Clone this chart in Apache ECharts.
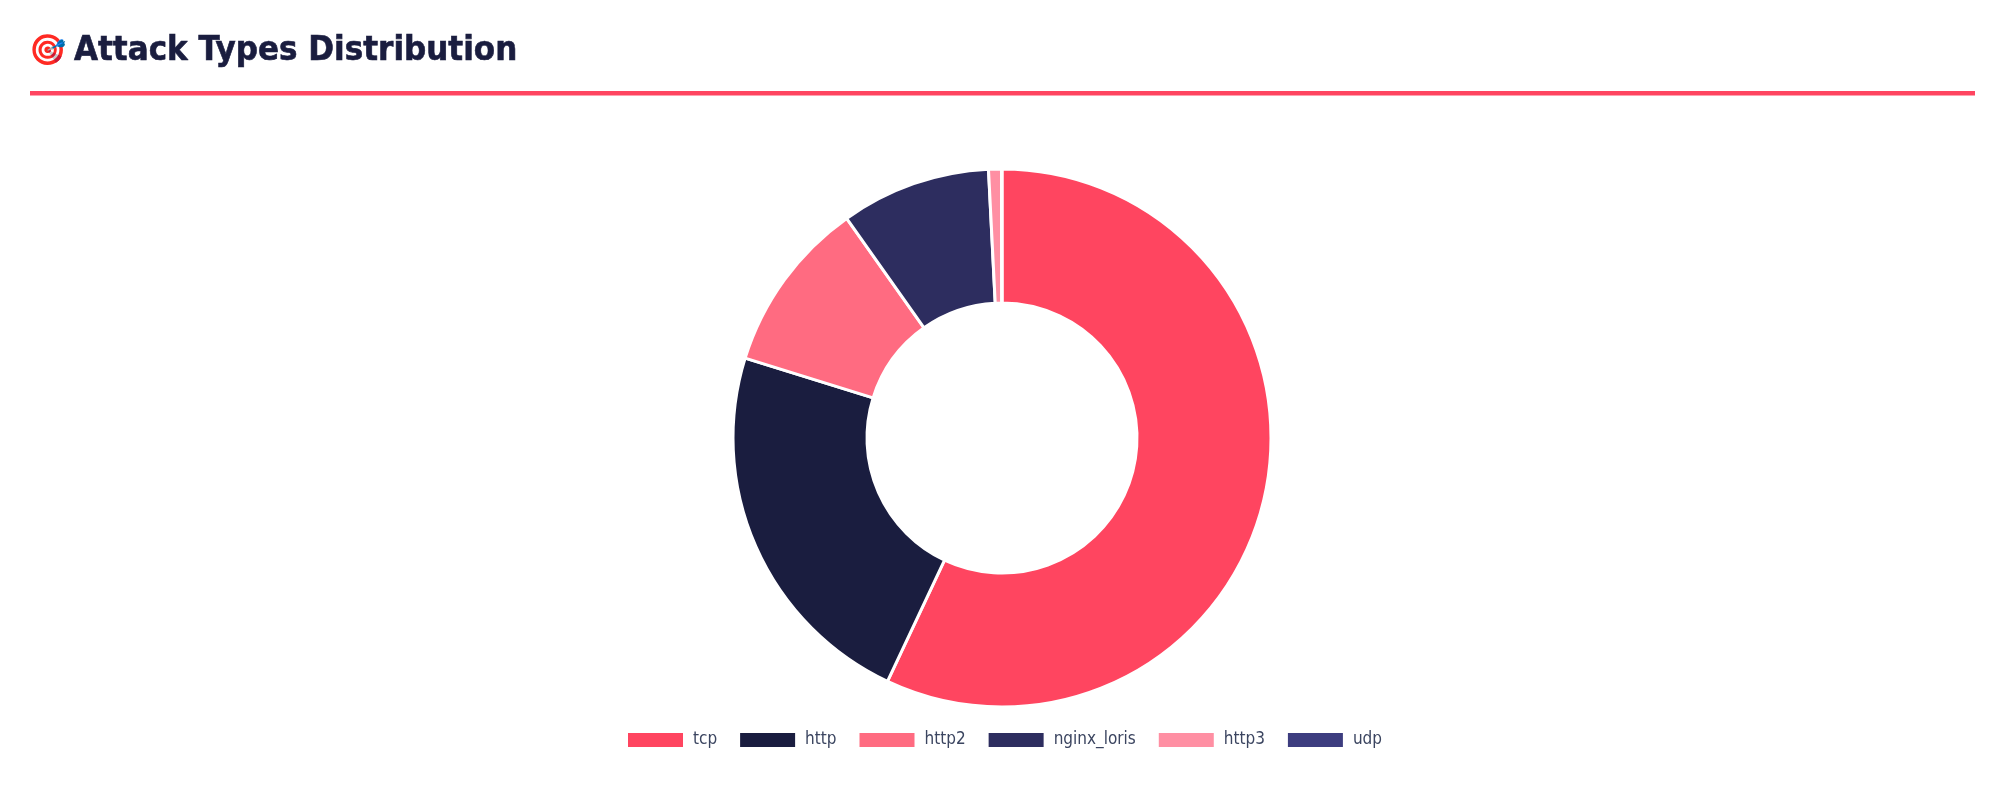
<!DOCTYPE html>
<html><head><meta charset="utf-8">
<style>html,body{margin:0;padding:0;background:#fff}#c{width:1999px;height:811px}</style>
<script src="https://cdn.jsdelivr.net/npm/echarts@6/dist/echarts.min.js"></script>
</head><body><div id="c"></div>
<script>
const categories = ['tcp','http','http2','nginx_loris','http3','udp'];
const values = [57.0, 22.8, 10.4, 9.0, 0.77, 0.03];
const colors = ['#ff4560','#1a1d3f','#ff6b81','#2d2d5f','#ff8fa3','#3d3d7f'];
const titleText = 'Attack Types Distribution';
const chart = echarts.init(document.getElementById('c'));
chart.setOption({
  animation:false,
  color:colors,
  legend:{data:categories,icon:'rect',top:726,left:621,itemWidth:57,itemHeight:16,itemGap:21,
    textStyle:{fontFamily:'DejaVu Sans Condensed',fontSize:17,color:'#3b4560',padding:[0,0,0,4]}},
  graphic:[
    {type:'rect',shape:{x:30,y:91,width:1945,height:4.5},style:{fill:'#ff4560'}},
    {type:'text',style:{x:29,y:36,text:'🎯',font:'30px "Noto Color Emoji","Noto Sans"',fill:'#c62828'}},
    {type:'text',style:{x:74,y:34,text:titleText,font:'bold 34.5px "DejaVu Sans Condensed"',fill:'#1a1d3f',stroke:'#1a1d3f',lineWidth:0.6}}
  ],
  series:[{type:'pie',center:[1002,438],radius:[135,269],startAngle:90,clockwise:true,
    label:{show:false},labelLine:{show:false},
    itemStyle:{borderColor:'#fff',borderWidth:3},
    data:categories.map((n,i)=>({name:n,value:values[i]}))}]
});
</script></body></html>
